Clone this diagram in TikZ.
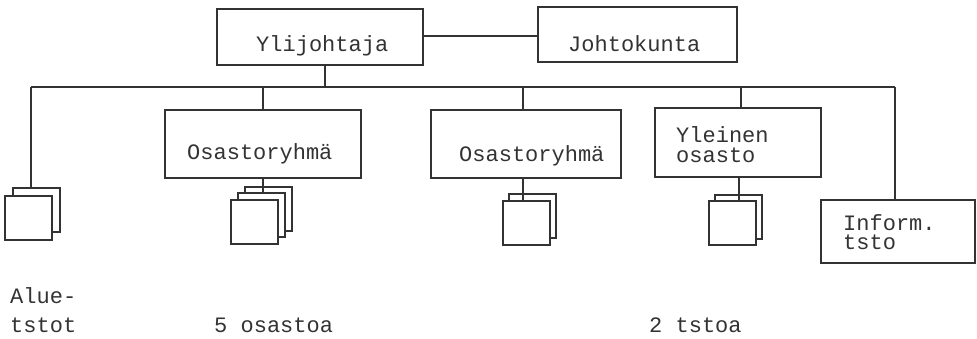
\documentclass[tikz,border=0pt]{standalone}
\usepackage{fontspec}
\setmonofont{Liberation Mono}
\begin{document}
\begin{tikzpicture}
      [x=1pt,y=-1pt,
       line/.style={line width=1.3pt,color=black!80},
       box/.style={rectangle,draw=black!80,line width=1.3pt,anchor=north west,inner sep=0pt,outer sep=0pt},
       card/.style={box,fill=white,minimum width=47pt,minimum height=44pt},
       txt/.style={anchor=base west,inner sep=0pt,align=left,text=black!80,
         font=\ttfamily\fontsize{22}{20}\selectfont}]
      \useasboundingbox (0,0) rectangle (977,339);
      % bus line
      \coordinate (busL) at (31,87);
      \coordinate (busR) at (895,87);
      \coordinate (busA) at (263,87);
      \coordinate (busB) at (523,87);
      \coordinate (busC) at (741,87);
      \coordinate (busD) at (325,87);
      % boxes
      \node[box,minimum width=206pt,minimum height=56pt] (ylijohtaja) at (217,9) {};
      \node[box,minimum width=199pt,minimum height=55pt] (johtokunta) at (538,7) {};
      \node[box,minimum width=196pt,minimum height=68pt] (ryhmaA) at (165,110) {};
      \node[box,minimum width=190pt,minimum height=68pt] (ryhmaB) at (431,110) {};
      \node[box,minimum width=166pt,minimum height=69pt] (yleinen) at (655,108) {};
      \node[box,minimum width=154pt,minimum height=63pt] (inform) at (821,200) {};
      % connectors
      \draw[line] (ylijohtaja.east |- 0,36) -- (johtokunta.west |- 0,36);
      \draw[line] (ylijohtaja.south -| busD) -- (busD);
      \draw[line] (busL) -- (busR);
      \draw[line] (busA) -- (ryhmaA.north -| busA);
      \draw[line] (busB) -- (ryhmaB.north -| busB);
      \draw[line] (busC) -- (yleinen.north -| busC);
      \draw[line] (busR) -- (inform.north -| busR);
      % cards
      \node[card] (alueB) at (13,188) {};
      \node[card] (alueA) at (5,196) {};
      \node[card] (ryhmaAc) at (245,187) {};
      \node[card] (ryhmaAb) at (238,193) {};
      \node[card] (ryhmaAa) at (231,200) {};
      \node[card] (ryhmaBb) at (509,194) {};
      \node[card] (ryhmaBa) at (503,201) {};
      \node[card] (yleinenb) at (715,195) {};
      \node[card] (yleinena) at (709,201) {};
      \draw[line] (busL) -- (alueB.north -| busL);
      \draw[line] (ryhmaA.south -| busA) -- (ryhmaAb.north -| busA);
      \draw[line] (ryhmaB.south -| busB) -- (ryhmaBa.north -| busB);
      \draw[line] (yleinen.south -| 739,0) -- (yleinena.north -| 739,0);
      % texts
      \node[txt] (tylijohtaja) at (256,52) {Ylijohtaja};
      \node[txt] (tjohtokunta) at (568,52) {Johtokunta};
      \node[txt] (tryhmaA) at (187,160) {Osastoryhmä};
      \node[txt] (tryhmaB) at (459,162) {Osastoryhmä};
      \node[txt] (tyleinen) at (676,163) {Yleinen\\osasto};
      \node[txt] (tinform) at (843,250) {Inform.\\tsto};
      \node[txt] (talue) at (10,332) {Alue-\\[9pt]tstot};
      \node[txt] (tosastoa) at (214,332) {5 osastoa};
      \node[txt] (ttstoa) at (649,332) {2 tstoa};
    \end{tikzpicture}
\end{document}
